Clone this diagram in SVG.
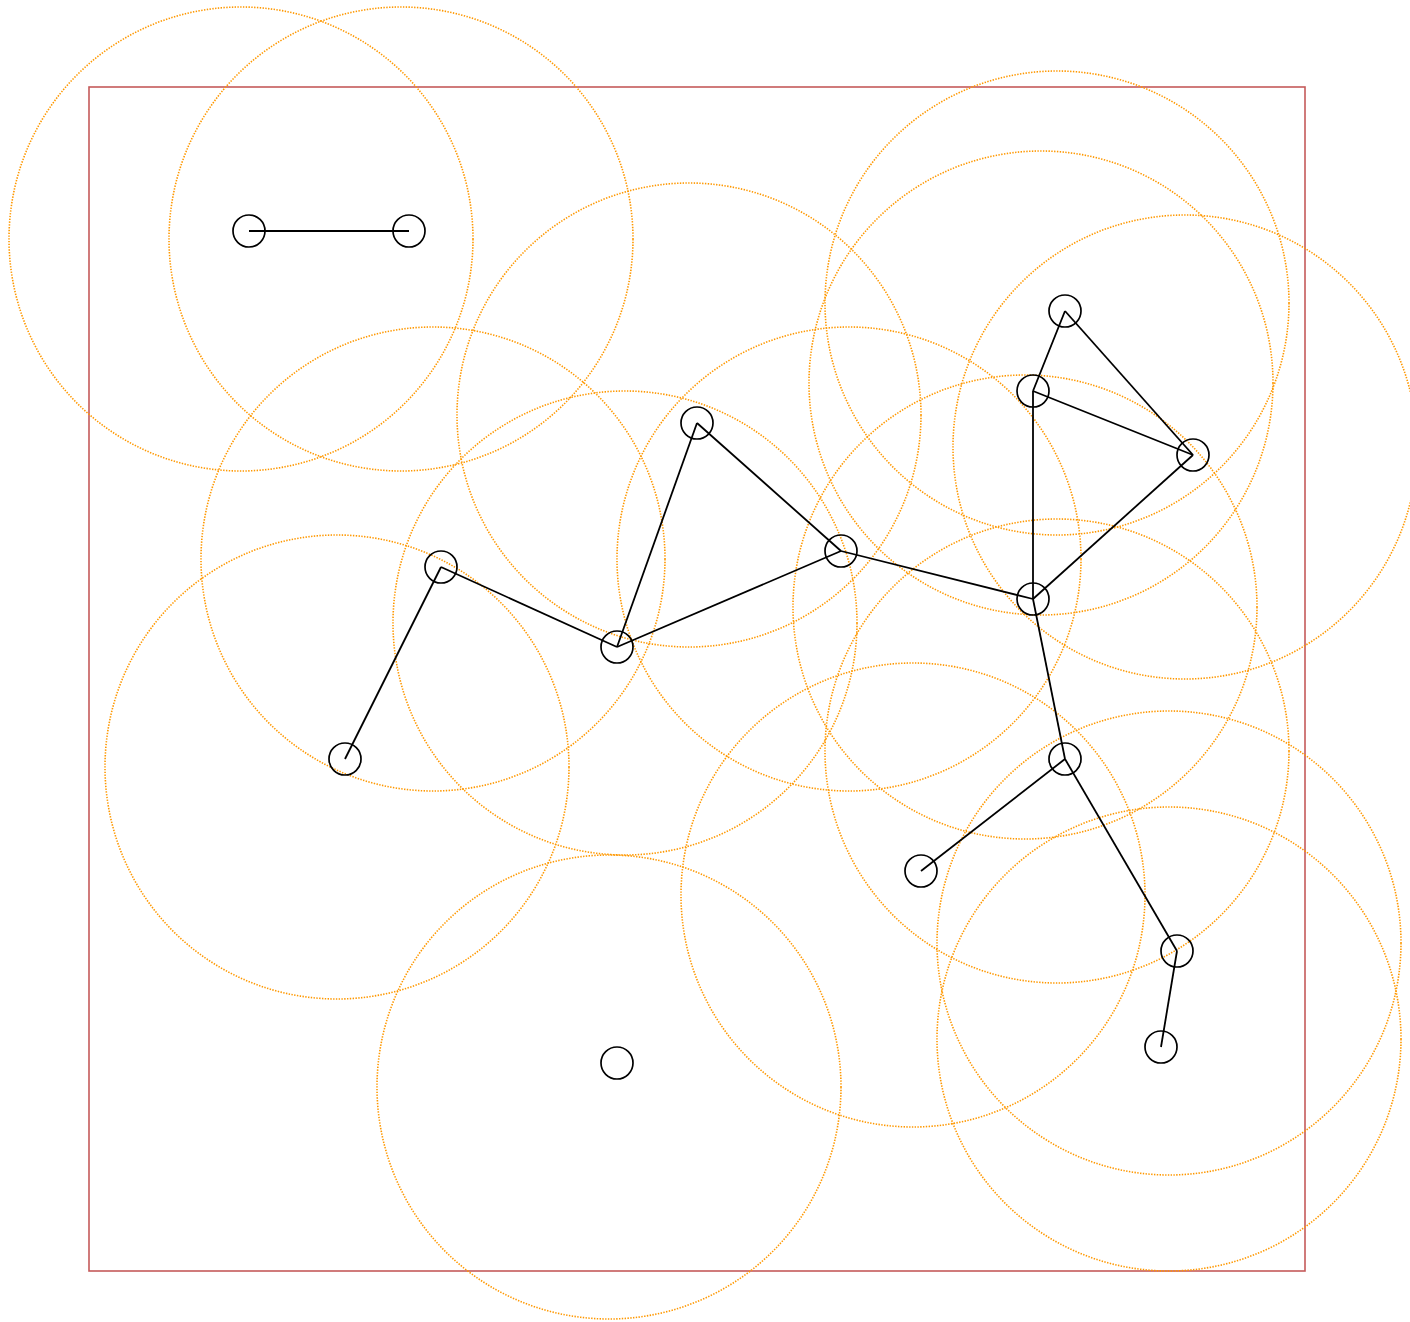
<svg xmlns="http://www.w3.org/2000/svg" width="1410" height="1322" viewBox="0 0 1410 1322">
<style>
.bg{fill:#ffffff}
.frame{fill:none;stroke:#c55a5a;stroke-width:1.6}
.range{fill:none;stroke:#ff9800;stroke-width:1.6;stroke-dasharray:1.4 1.4}
.edge{stroke:#000;stroke-width:1.8;fill:none}
.node{fill:none;stroke:#000;stroke-width:1.7}
</style>
<rect class="bg" x="0" y="0" width="1410" height="1322"/>
<rect class="frame" x="89" y="87" width="1216" height="1184"/>
<g id="ranges">
<circle class="range" cx="241" cy="239" r="232"/>
<circle class="range" cx="401" cy="239" r="232"/>
<circle class="range" cx="1057" cy="303" r="232"/>
<circle class="range" cx="1041" cy="383" r="232"/>
<circle class="range" cx="1185" cy="447" r="232"/>
<circle class="range" cx="689" cy="415" r="232"/>
<circle class="range" cx="849" cy="559" r="232"/>
<circle class="range" cx="433" cy="559" r="232"/>
<circle class="range" cx="625" cy="623" r="232"/>
<circle class="range" cx="1025" cy="607" r="232"/>
<circle class="range" cx="337" cy="767" r="232"/>
<circle class="range" cx="1057" cy="751" r="232"/>
<circle class="range" cx="913" cy="895" r="232"/>
<circle class="range" cx="1169" cy="943" r="232"/>
<circle class="range" cx="1169" cy="1039" r="232"/>
<circle class="range" cx="609" cy="1087" r="232"/>
</g>
<g id="connectors">
<line class="edge" x1="249" y1="231" x2="409" y2="231"/>
<line class="edge" x1="1065" y1="311" x2="1033" y2="391"/>
<line class="edge" x1="1065" y1="311" x2="1193" y2="455"/>
<line class="edge" x1="1033" y1="391" x2="1193" y2="455"/>
<line class="edge" x1="1033" y1="391" x2="1033" y2="599"/>
<line class="edge" x1="1193" y1="455" x2="1033" y2="599"/>
<line class="edge" x1="697" y1="423" x2="841" y2="551"/>
<line class="edge" x1="697" y1="423" x2="617" y2="647"/>
<line class="edge" x1="841" y1="551" x2="617" y2="647"/>
<line class="edge" x1="841" y1="551" x2="1033" y2="599"/>
<line class="edge" x1="441" y1="567" x2="617" y2="647"/>
<line class="edge" x1="441" y1="567" x2="345" y2="759"/>
<line class="edge" x1="1033" y1="599" x2="1065" y2="759"/>
<line class="edge" x1="1065" y1="759" x2="921" y2="871"/>
<line class="edge" x1="1065" y1="759" x2="1177" y2="951"/>
<line class="edge" x1="1177" y1="951" x2="1161" y2="1047"/>
</g>
<g id="n1"><circle class="node" cx="249" cy="231" r="16"/></g>
<g id="n2"><circle class="node" cx="409" cy="231" r="16"/></g>
<g id="n3"><circle class="node" cx="1065" cy="311" r="16"/></g>
<g id="n4"><circle class="node" cx="1033" cy="391" r="16"/></g>
<g id="n5"><circle class="node" cx="1193" cy="455" r="16"/></g>
<g id="n6"><circle class="node" cx="697" cy="423" r="16"/></g>
<g id="n7"><circle class="node" cx="841" cy="551" r="16"/></g>
<g id="n8"><circle class="node" cx="441" cy="567" r="16"/></g>
<g id="n9"><circle class="node" cx="617" cy="647" r="16"/></g>
<g id="n10"><circle class="node" cx="1033" cy="599" r="16"/></g>
<g id="n11"><circle class="node" cx="345" cy="759" r="16"/></g>
<g id="n12"><circle class="node" cx="1065" cy="759" r="16"/></g>
<g id="n13"><circle class="node" cx="921" cy="871" r="16"/></g>
<g id="n14"><circle class="node" cx="1177" cy="951" r="16"/></g>
<g id="n15"><circle class="node" cx="1161" cy="1047" r="16"/></g>
<g id="n16"><circle class="node" cx="617" cy="1063" r="16"/></g>
</svg>
